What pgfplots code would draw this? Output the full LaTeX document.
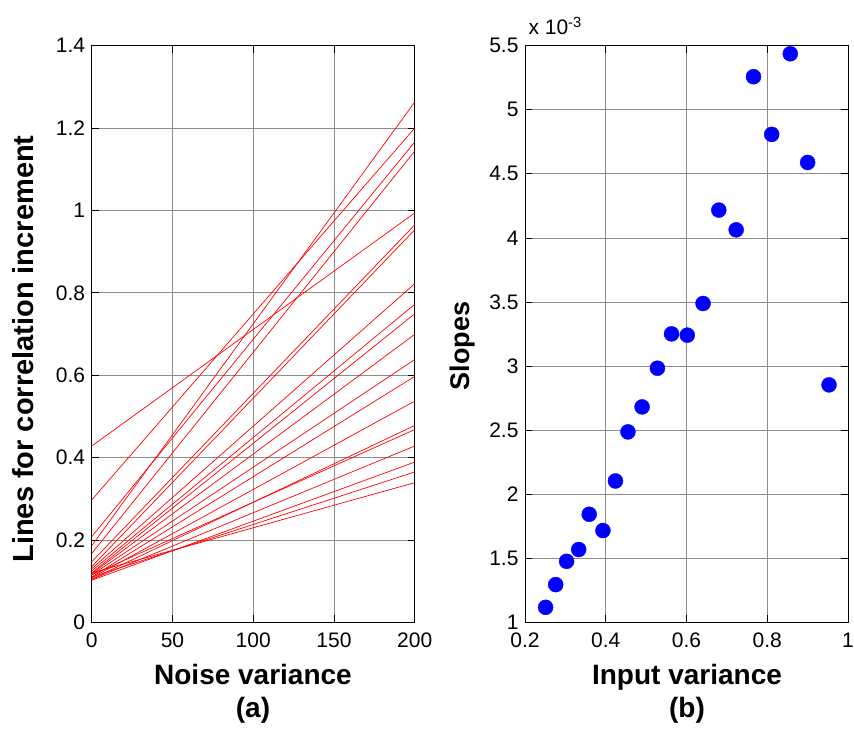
\documentclass[border=0pt]{standalone}
\usepackage{pgfplots}
\pgfplotsset{compat=1.18}
\usepackage{fontspec}
\setmainfont{Liberation Sans}

\pgfplotstableread{
x y
0.251 1.117
0.276 1.294
0.303 1.476
0.333 1.568
0.359 1.843
0.393 1.716
0.424 2.103
0.455 2.486
0.490 2.681
0.528 2.983
0.563 3.251
0.602 3.241
0.641 3.488
0.680 4.217
0.723 4.063
0.766 5.258
0.811 4.808
0.857 5.437
0.900 4.589
0.953 2.853
}\slopes

\begin{document}
\begin{tikzpicture}
\path[use as bounding box] (0pt,0pt) rectangle (854pt,729pt);
\pgfplotsset{every axis/.append style={
  scale only axis, width=323pt, height=576.6pt,
  grid=major, grid style={black!45, line width=0.7pt},
  tick align=inside, major tick length=7pt,
  tick style={black, line width=0.7pt},
  axis line style={black, line width=0.9pt},
  tick label style={font=\fontsize{21}{24}\selectfont},
  xticklabel style={yshift=-7pt},
  yticklabel style={xshift=-3pt},
  /pgf/number format/assume math mode=true,
  anchor=south west}}

\begin{axis}[at={(91.7pt,106.7pt)},
  xmin=0, xmax=200, ymin=0, ymax=1.4,
  xtick={0,50,100,150,200},
  ytick={0,0.2,0.4,0.6,0.8,1,1.2,1.4}]
\addplot[red, line width=0.7pt] coordinates {(0,0.186) (200,1.263)};
\addplot[red, line width=0.7pt] coordinates {(0,0.297) (200,1.200)};
\addplot[red, line width=0.7pt] coordinates {(0,0.208) (200,1.166)};
\addplot[red, line width=0.7pt] coordinates {(0,0.167) (200,1.144)};
\addplot[red, line width=0.7pt] coordinates {(0,0.428) (200,0.994)};
\addplot[red, line width=0.7pt] coordinates {(0,0.147) (200,0.965)};
\addplot[red, line width=0.7pt] coordinates {(0,0.135) (200,0.953)};
\addplot[red, line width=0.7pt] coordinates {(0,0.130) (200,0.822)};
\addplot[red, line width=0.7pt] coordinates {(0,0.125) (200,0.772)};
\addplot[red, line width=0.7pt] coordinates {(0,0.120) (200,0.749)};
\addplot[red, line width=0.7pt] coordinates {(0,0.118) (200,0.699)};
\addplot[red, line width=0.7pt] coordinates {(0,0.115) (200,0.638)};
\addplot[red, line width=0.7pt] coordinates {(0,0.110) (200,0.597)};
\addplot[red, line width=0.7pt] coordinates {(0,0.108) (200,0.537)};
\addplot[red, line width=0.7pt] coordinates {(0,0.105) (200,0.478)};
\addplot[red, line width=0.7pt] coordinates {(0,0.115) (200,0.468)};
\addplot[red, line width=0.7pt] coordinates {(0,0.104) (200,0.428)};
\addplot[red, line width=0.7pt] coordinates {(0,0.102) (200,0.389)};
\addplot[red, line width=0.7pt] coordinates {(0,0.110) (200,0.365)};
\addplot[red, line width=0.7pt] coordinates {(0,0.120) (200,0.339)};
\end{axis}

\begin{axis}[at={(525pt,106.7pt)},
  xmin=0.2, xmax=1, ymin=1, ymax=5.5,
  xtick={0.2,0.4,0.6,0.8,1},
  ytick={1,1.5,2,2.5,3,3.5,4,4.5,5,5.5}]
\addplot[only marks, mark=*, mark size=7.5pt, draw=blue, fill=blue, mark options={draw=blue, fill=blue}] table {\slopes};
\end{axis}

\node[anchor=base west, font=\fontsize{21}{24}\selectfont] at (525pt,694pt) {x 10\textsuperscript{-3}};

\node[anchor=base, font=\fontsize{28}{32}\bfseries\selectfont] at (253pt,45pt) {Noise variance};
\node[anchor=base, font=\fontsize{28}{32}\bfseries\selectfont] at (253pt,12pt) {(a)};
\node[anchor=base, font=\fontsize{28}{32}\bfseries\selectfont] at (687pt,45pt) {Input variance};
\node[anchor=base, font=\fontsize{28}{32}\bfseries\selectfont] at (687pt,12pt) {(b)};
\node[anchor=base, rotate=90, font=\fontsize{29}{33}\bfseries\selectfont] at (33pt,380pt) {Lines for correlation increment};
\node[anchor=base, rotate=90, font=\fontsize{27}{31}\bfseries\selectfont] at (469pt,383pt) {Slopes};
\end{tikzpicture}
\end{document}
